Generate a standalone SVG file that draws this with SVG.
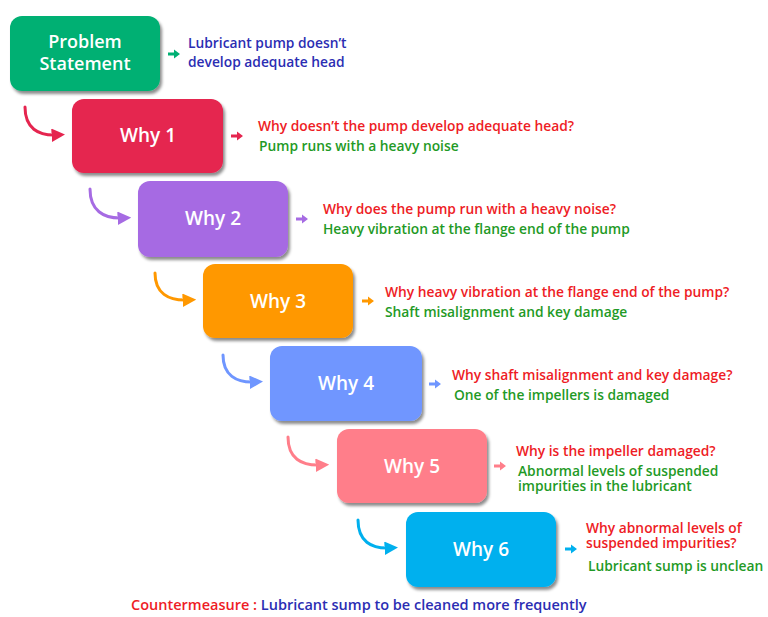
<svg xmlns="http://www.w3.org/2000/svg" width="768" height="617" viewBox="0 0 768 617">
<defs>
<filter id="sh" x="-10%" y="-10%" width="125%" height="130%">
<feDropShadow dx="2" dy="3" stdDeviation="1.6" flood-color="#000" flood-opacity="0.45"/>
</filter>
<marker id="mRed" viewBox="0 0 10 10" refX="4" refY="5" markerWidth="4.5" markerHeight="4.5" orient="auto" markerUnits="strokeWidth"><path d="M0,0 L10,5 L0,10 z" fill="#E5254F"/></marker>
<marker id="mPur" viewBox="0 0 10 10" refX="4" refY="5" markerWidth="4.5" markerHeight="4.5" orient="auto" markerUnits="strokeWidth"><path d="M0,0 L10,5 L0,10 z" fill="#A66BE3"/></marker>
<marker id="mOra" viewBox="0 0 10 10" refX="4" refY="5" markerWidth="4.5" markerHeight="4.5" orient="auto" markerUnits="strokeWidth"><path d="M0,0 L10,5 L0,10 z" fill="#FF9800"/></marker>
<marker id="mBlu" viewBox="0 0 10 10" refX="4" refY="5" markerWidth="4.5" markerHeight="4.5" orient="auto" markerUnits="strokeWidth"><path d="M0,0 L10,5 L0,10 z" fill="#6F96FF"/></marker>
<marker id="mPin" viewBox="0 0 10 10" refX="4" refY="5" markerWidth="4.5" markerHeight="4.5" orient="auto" markerUnits="strokeWidth"><path d="M0,0 L10,5 L0,10 z" fill="#FF7E8A"/></marker>
<marker id="mCya" viewBox="0 0 10 10" refX="4" refY="5" markerWidth="4.5" markerHeight="4.5" orient="auto" markerUnits="strokeWidth"><path d="M0,0 L10,5 L0,10 z" fill="#00B0EE"/></marker>
<path id="sa" d="M0,-1.5 H6 V-4.5 L12,0 L6,4.5 V1.5 H0 z"/>
</defs>
<style>
.box{filter:url(#sh)}
.lbl{font-family:"Open Sans","Liberation Sans",sans-serif;font-weight:600;fill:#fff;text-anchor:middle}
.t{font-family:"Open Sans","Liberation Sans",sans-serif;font-weight:600;font-size:13.8px}
.cm{font-size:14.5px}
.q{fill:#EE1C25}
.a{fill:#1F9A26}
.b{fill:#2B2DB3}
.cv{fill:none;stroke-width:3;stroke-linecap:round}
</style>
<rect width="768" height="617" fill="#fff"/>

<g id="problem">
<rect class="box" x="10" y="16" width="150" height="75" rx="12" fill="#00B073"/>
<text class="lbl" x="85" y="48" font-size="18">Problem</text>
<text class="lbl" x="85" y="70" font-size="18">Statement</text>
</g>
<g id="why1">
<rect class="box" x="72" y="99" width="151" height="74" rx="12" fill="#E5254F"/>
<text class="lbl" x="148" y="142" font-size="19">Why 1</text>
</g>
<g id="why2">
<rect class="box" x="138" y="181" width="150" height="76" rx="12" fill="#A66BE3"/>
<text class="lbl" x="213" y="225" font-size="19">Why 2</text>
</g>
<g id="why3">
<rect class="box" x="203" y="264" width="150" height="74" rx="12" fill="#FF9800"/>
<text class="lbl" x="278" y="308" font-size="19">Why 3</text>
</g>
<g id="why4">
<rect class="box" x="270" y="346" width="152" height="75" rx="12" fill="#6F96FF"/>
<text class="lbl" x="346" y="390" font-size="19">Why 4</text>
</g>
<g id="why5">
<rect class="box" x="337" y="429" width="150" height="74" rx="12" fill="#FF7E8A"/>
<text class="lbl" x="412" y="473" font-size="19">Why 5</text>
</g>
<g id="why6">
<rect class="box" x="406" y="512" width="150" height="75" rx="12" fill="#00B0EE"/>
<text class="lbl" x="481" y="556" font-size="19">Why 6</text>
</g>

<g id="connectors">
<path class="cv" stroke="#E5254F" marker-end="url(#mRed)" d="M25,107 C25,128 38,136 57,135"/>
<path class="cv" stroke="#A66BE3" marker-end="url(#mPur)" d="M90,189 C90,210 103,219 123,218"/>
<path class="cv" stroke="#FF9800" marker-end="url(#mOra)" d="M155,273 C155,293 168,301 188,300"/>
<path class="cv" stroke="#6F96FF" marker-end="url(#mBlu)" d="M223,355 C223,375 236,383 255,382"/>
<path class="cv" stroke="#FF7E8A" marker-end="url(#mPin)" d="M288,437 C288,458 301,466 321,465"/>
<path class="cv" stroke="#00B0EE" marker-end="url(#mCya)" d="M358,520 C358,541 371,549 390,548"/>
<use href="#sa" x="168" y="54" fill="#00B073"/>
<use href="#sa" x="231" y="136" fill="#E5254F"/>
<use href="#sa" x="296" y="219" fill="#A66BE3"/>
<use href="#sa" x="362" y="301" fill="#FF9800"/>
<use href="#sa" x="429" y="384" fill="#6F96FF"/>
<use href="#sa" x="494" y="466" fill="#FF7E8A"/>
<use href="#sa" x="565" y="549" fill="#00B0EE"/>
</g>

<g id="texts">
<text class="t b" x="188" y="48">Lubricant pump doesn’t</text>
<text class="t b" x="188" y="67">develop adequate head</text>
<text class="t q" x="258" y="131">Why doesn’t the pump develop adequate head?</text>
<text class="t a" x="259" y="151">Pump runs with a heavy noise</text>
<text class="t q" x="323" y="214">Why does the pump run with a heavy noise?</text>
<text class="t a" x="323" y="234">Heavy vibration at the flange end of the pump</text>
<text class="t q" x="385" y="297">Why heavy vibration at the flange end of the pump?</text>
<text class="t a" x="385" y="317">Shaft misalignment and key damage</text>
<text class="t q" x="452" y="380">Why shaft misalignment and key damage?</text>
<text class="t a" x="454" y="400">One of the impellers is damaged</text>
<text class="t q" x="516" y="456">Why is the impeller damaged?</text>
<text class="t a" x="518" y="476">Abnormal levels of suspended</text>
<text class="t a" x="518" y="491">impurities in the lubricant</text>
<text class="t q" x="586" y="533">Why abnormal levels of</text>
<text class="t q" x="586" y="548">suspended impurities?</text>
<text class="t a" x="588" y="571">Lubricant sump is unclean</text>
<text class="t cm" x="131" y="610"><tspan class="q">Countermeasure : </tspan><tspan class="b">Lubricant sump to be cleaned more frequently</tspan></text>
</g>
</svg>
